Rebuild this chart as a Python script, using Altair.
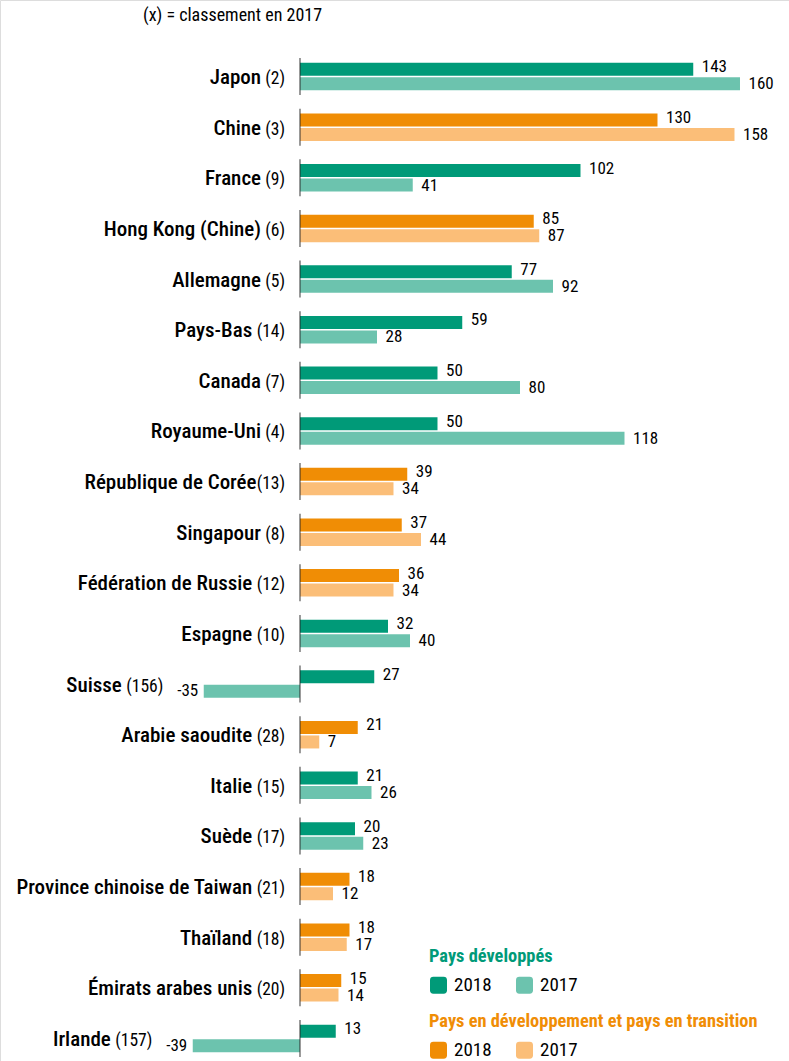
import altair as alt
import pandas as pd

countries = ["Japon", "Chine", "France", "Hong Kong (Chine)", "Allemagne", "Pays-Bas",
             "Canada", "Royaume-Uni", "République de Corée", "Singapour",
             "Fédération de Russie", "Espagne", "Suisse", "Arabie saoudite", "Italie",
             "Suède", "Province chinoise de Taiwan", "Thaïland", "Émirats arabes unis", "Irlande"]
ranks = [2, 3, 9, 6, 5, 14, 7, 4, 13, 8, 12, 10, 156, 28, 15, 17, 21, 18, 20, 157]
v2018 = [143, 130, 102, 85, 77, 59, 50, 50, 39, 37, 36, 32, 27, 21, 21, 20, 18, 18, 15, 13]
v2017 = [160, 158, 41, 87, 92, 28, 80, 118, 34, 44, 34, 40, -35, 7, 26, 23, 12, 17, 14, -39]
groups = ["dev", "dvg", "dev", "dvg", "dev", "dev", "dev", "dev", "dvg", "dvg",
          "dvg", "dev", "dev", "dvg", "dev", "dev", "dvg", "dvg", "dvg", "dev"]
no_space = ["République de Corée"]
years = ["2018", "2017"]
title_text = "(x) = classement en 2017"
legend_titles = {"dev": "Pays développés", "dvg": "Pays en développement et pays en transition"}

DEV = ["#009a78", "#6cc3ae"]
DVG = ["#f08d05", "#fbbe78"]
FONT = "Roboto Condensed"
RANK_FS = 17.5
NAME_FS = 21
VAL_FS = 17

# approximate advance widths (em) of the condensed font, used to place the name
cw = {c: 0.5 for c in "0123456789"}
cw.update({"(": 0.27, ")": 0.27})
SPACE = 0.33

rows = []
labels = []
for i, c in enumerate(countries):
    for y, v in zip(years, (v2018[i], v2017[i])):
        rows.append({"country": c, "year": y, "value": v, "group": groups[i],
                     "label": str(v)})
    base = min(0, v2018[i], v2017[i])
    rank_txt = f"({ranks[i]})"
    rank_w = sum(cw[ch] for ch in rank_txt) * RANK_FS
    gap = 1.5 if c in no_space else SPACE * RANK_FS
    anchor_dx = -40.5 if base < 0 else -15
    labels.append({"country": c, "base": base, "rank": rank_txt,
                   "rank_dx": anchor_dx, "name_dx": anchor_dx - rank_w - gap, "zero": 0})

df = pd.DataFrame(rows)
lab = pd.DataFrame(labels)

xscale = alt.Scale(domain=[-109.09, 177.82], nice=False, zero=False)
yscale = alt.Scale(domain=countries, range=[51.2, 1063.8], paddingInner=0, paddingOuter=0)
yoff = alt.Scale(domain=years, paddingInner=0.1034, paddingOuter=0.7976)

X = lambda f: alt.X(f, scale=xscale, axis=None)
Y = alt.Y("country:N", scale=yscale, axis=None, sort=countries)
YO = alt.YOffset("year:N", scale=yoff, sort=years)

rounded = "M-1,-0.6 Q-1,-1 -0.6,-1 L0.6,-1 Q1,-1 1,-0.6 L1,0.6 Q1,1 0.6,1 L-0.6,1 Q-1,1 -1,0.6 Z"


def legend(key, color, ly):
    return alt.Legend(title=legend_titles[key], orient="none", legendX=429, legendY=ly,
                      direction="horizontal", symbolType=rounded, symbolSize=289,
                      symbolStrokeWidth=0, labelFont=FONT, labelFontSize=19,
                      labelColor="black", labelOffset=6, columnPadding=23,
                      titleFont=FONT, titleFontSize=18.4, titleFontWeight="bold",
                      titleColor=color, titlePadding=10, padding=0, titleLimit=500,
                      labelLimit=100)


base = alt.Chart(df)

bars_dev = base.transform_filter(alt.datum.group == "dev").mark_bar().encode(
    x=X("value:Q"), x2=alt.datum(0), y=Y, yOffset=YO,
    color=alt.Color("year:N", scale=alt.Scale(domain=years, range=DEV),
                    legend=legend("dev", DEV[0], 947)))
bars_dvg = base.transform_filter(alt.datum.group == "dvg").mark_bar().encode(
    x=X("value:Q"), x2=alt.datum(0), y=Y, yOffset=YO,
    color=alt.Color("year:N", scale=alt.Scale(domain=years, range=DVG),
                    legend=legend("dvg", DVG[0], 1012)))

pos18 = base.transform_filter("datum.value >= 0 && datum.year == '2018'").mark_text(
    align="left", baseline="middle", dx=8.5, dy=-2, font=FONT, fontSize=VAL_FS, color="black"
).encode(x=X("value:Q"), y=Y, yOffset=YO, text="label:N")
pos17 = base.transform_filter("datum.value >= 0 && datum.year == '2017'").mark_text(
    align="left", baseline="middle", dx=8.5, dy=0.5, font=FONT, fontSize=VAL_FS, color="black"
).encode(x=X("value:Q"), y=Y, yOffset=YO, text="label:N")
neg = base.transform_filter("datum.value < 0").mark_text(
    align="right", baseline="middle", dx=-5.5, font=FONT, fontSize=VAL_FS, color="black"
).encode(x=X("value:Q"), y=Y, yOffset=YO, text="label:N")

lb = alt.Chart(lab)
ticks = lb.mark_tick(size=37, thickness=1.3, color="#222222").encode(
    x=X("zero:Q"), y=alt.Y("country:N", scale=yscale, axis=None, sort=countries, bandPosition=0.4605))
rank_t = lb.mark_text(align="right", baseline="alphabetic", dy=7.5, font=FONT, fontSize=RANK_FS,
                      fontWeight=400, color="black", dx=alt.ExprRef(expr="datum.rank_dx")).encode(
    x=X("base:Q"), y=Y, text="rank:N")
name_t = lb.mark_text(align="right", baseline="alphabetic", dy=7.5, font=FONT, fontSize=NAME_FS,
                      fontWeight=500, color="black",
                      dx=alt.ExprRef(expr="datum.name_dx")).encode(
    x=X("base:Q"), y=Y, text="country:N")

title = alt.Chart(pd.DataFrame({"t": [title_text]})).mark_text(
    align="left", baseline="middle", font=FONT, fontSize=18, color="black"
).encode(x=alt.value(143), y=alt.value(16), text="t:N")

chart = alt.layer(bars_dev, bars_dvg, ticks, pos18, pos17, neg, rank_t, name_t, title).resolve_scale(
    color="independent").properties(
    width=789, height=1061, padding=0, autosize=alt.AutoSizeParams(type="none")
).configure_view(stroke=None).configure(background="white")

chart.save("out.html", embed_options={"renderer": "svg", "actions": False})
